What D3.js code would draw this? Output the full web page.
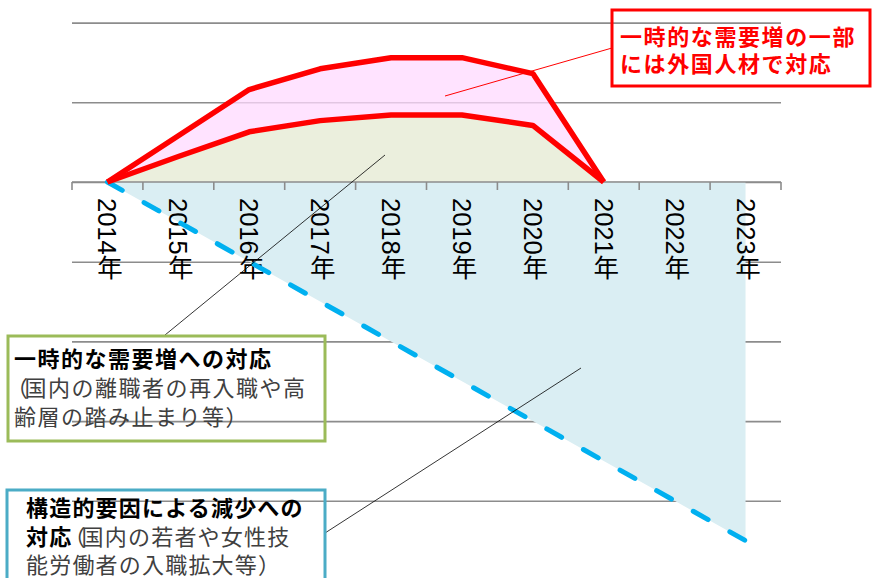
<!DOCTYPE html>
<html>
<head>
<meta charset="utf-8">
<script src="https://cdn.jsdelivr.net/npm/d3@7"></script>
<style>
  body { margin: 0; background: #fff; }
  svg { display: block; }
</style>
</head>
<body>
<script>
var years = ["2014年", "2015年", "2016年", "2017年", "2018年", "2019年", "2020年", "2021年", "2022年", "2023年"];
// temporary demand (upper edge) and domestic response (lower edge), 2014-2021
var demandTop = [0, 0.58, 1.16, 1.42, 1.56, 1.56, 1.36, 0];
var domestic = [0, 0.32, 0.63, 0.77, 0.84, 0.84, 0.71, 0];
// structural decline, 2014-2023
var structural = [0, -0.5, -1, -1.5, -2, -2.5, -3, -3.5, -4, -4.5];
var gridValues = [-5, -4, -3, -2, -1, 0, 1, 2];

var width = 872;
var height = 578;

var svg = d3.select("body").append("svg").attr("width", width).attr("height", height);

var x = d3.scaleBand().domain(years).range([72, 781]);
var y = d3.scaleLinear().domain([-5, 2]).range([580.5, 22.6]);
function cx(i) { return x(years[i]) + x.bandwidth() / 2; }

// gridlines
svg.append("g")
  .attr("transform", "translate(72,0)")
  .call(d3.axisLeft(y).tickValues(gridValues).tickSize(-709).tickFormat(""))
  .call(function(g) {
    g.select(".domain").remove();
    g.selectAll("line").attr("stroke", "#8c8c8c").attr("stroke-width", 1.6);
  });

// areas
var structArea = d3.area()
  .x(function(d, i) { return cx(i); })
  .y0(y(0))
  .y1(function(d) { return y(d); });
svg.append("path").datum(structural).attr("d", structArea).attr("fill", "#daeef3");

var domArea = d3.area()
  .x(function(d, i) { return cx(i); })
  .y0(y(0))
  .y1(function(d) { return y(d); });
svg.append("path").datum(domestic).attr("d", domArea).attr("fill", "#ebefdd");

var band = d3.area()
  .x(function(d, i) { return cx(i); })
  .y0(function(d, i) { return y(domestic[i]); })
  .y1(function(d) { return y(d); });
svg.append("path").datum(demandTop).attr("d", band).attr("fill", "#ffd9ff").attr("fill-opacity", 0.75);

// x axis: line, ticks at band edges
var axis = svg.append("g");
axis.append("line")
  .attr("x1", 72).attr("x2", 781).attr("y1", y(0)).attr("y2", y(0))
  .attr("stroke", "#8c8c8c").attr("stroke-width", 1.6);
var edges = years.map(function(d) { return x(d); }).concat([x.range()[1]]);
axis.selectAll(".tk").data(edges).enter().append("line")
  .attr("x1", function(d) { return d; }).attr("x2", function(d) { return d; })
  .attr("y1", y(0)).attr("y2", y(0) + 8)
  .attr("stroke", "#8c8c8c").attr("stroke-width", 1.6);
axis.selectAll("text").data(years).enter().append("text")
  .attr("x", function(d, i) { return cx(i); })
  .attr("y", 198)
  .style("writing-mode", "vertical-rl")
  .attr("font-family", "'Liberation Sans', 'Noto Sans CJK JP'")
  .attr("font-size", 25.5)
  .attr("fill", "#000")
  .text(function(d) { return d; });

// lines
var line = d3.line().x(function(d, i) { return cx(i); }).y(function(d) { return y(d); });
svg.append("path").datum(structural).attr("d", line)
  .attr("fill", "none").attr("stroke", "#00b0f0").attr("stroke-width", 5)
  .attr("stroke-linecap", "round").attr("stroke-dasharray", "17,25");
svg.append("path").datum(domestic).attr("d", line)
  .attr("fill", "none").attr("stroke", "#ff0000").attr("stroke-width", 5.5)
  .attr("stroke-linejoin", "round");
svg.append("path").datum(demandTop).attr("d", line)
  .attr("fill", "none").attr("stroke", "#ff0000").attr("stroke-width", 5.5)
  .attr("stroke-linejoin", "round");

// callouts
var jp = "'Noto Sans CJK JP', sans-serif";

svg.append("line").attr("x1", 612).attr("y1", 48).attr("x2", 445).attr("y2", 96)
  .attr("stroke", "#ff0000").attr("stroke-width", 1);
svg.append("rect").attr("x", 612).attr("y", 10).attr("width", 258).attr("height", 76)
  .attr("fill", "none").attr("stroke", "#ff0000").attr("stroke-width", 3);
var redText = svg.append("text").attr("font-family", jp).attr("font-size", 22)
  .attr("font-weight", "bold").attr("fill", "#ff0000").attr("letter-spacing", 1.6);
redText.append("tspan").attr("x", 620).attr("y", 45).text("一時的な需要増の一部");
redText.append("tspan").attr("x", 620).attr("y", 72).text("には外国人材で対応");

svg.append("line").attr("x1", 165).attr("y1", 335).attr("x2", 385).attr("y2", 155)
  .attr("stroke", "#000").attr("stroke-width", 0.8);
svg.append("rect").attr("x", 8).attr("y", 336).attr("width", 317).attr("height", 105)
  .attr("fill", "none").attr("stroke", "#9bbb59").attr("stroke-width", 3);
var gText = svg.append("text").attr("font-family", jp).attr("font-size", 22).attr("letter-spacing", 1.5);
gText.append("tspan").attr("x", 14).attr("y", 367).attr("font-weight", "bold").attr("fill", "#000")
  .text("一時的な需要増への対応");
gText.append("tspan").attr("x", 6).attr("y", 396).attr("fill", "#404040").text("（");
gText.append("tspan").attr("dx", -5).attr("fill", "#404040").text("国内の離職者の再入職や高");
gText.append("tspan").attr("x", 14).attr("y", 425).attr("fill", "#404040")
  .text("齢層の踏み止まり等）");

svg.append("line").attr("x1", 325).attr("y1", 533).attr("x2", 581).attr("y2", 368)
  .attr("stroke", "#000").attr("stroke-width", 0.8);
svg.append("rect").attr("x", 7).attr("y", 490).attr("width", 318).attr("height", 100)
  .attr("fill", "none").attr("stroke", "#4bacc6").attr("stroke-width", 3);
var bText = svg.append("text").attr("font-family", jp).attr("font-size", 22).attr("letter-spacing", 1.2);
bText.append("tspan").attr("x", 26).attr("y", 516).attr("font-weight", "bold").attr("fill", "#000")
  .text("構造的要因による減少への");
bText.append("tspan").attr("x", 26).attr("y", 545).attr("font-weight", "bold").attr("fill", "#000")
  .text("対応");
bText.append("tspan").attr("dx", -9).attr("fill", "#404040").text("（");
bText.append("tspan").attr("dx", -5).attr("fill", "#404040").text("国内の若者や女性技");
bText.append("tspan").attr("x", 26).attr("y", 573).attr("fill", "#404040")
  .text("能労働者の入職拡大等）");
</script>
</body>
</html>
